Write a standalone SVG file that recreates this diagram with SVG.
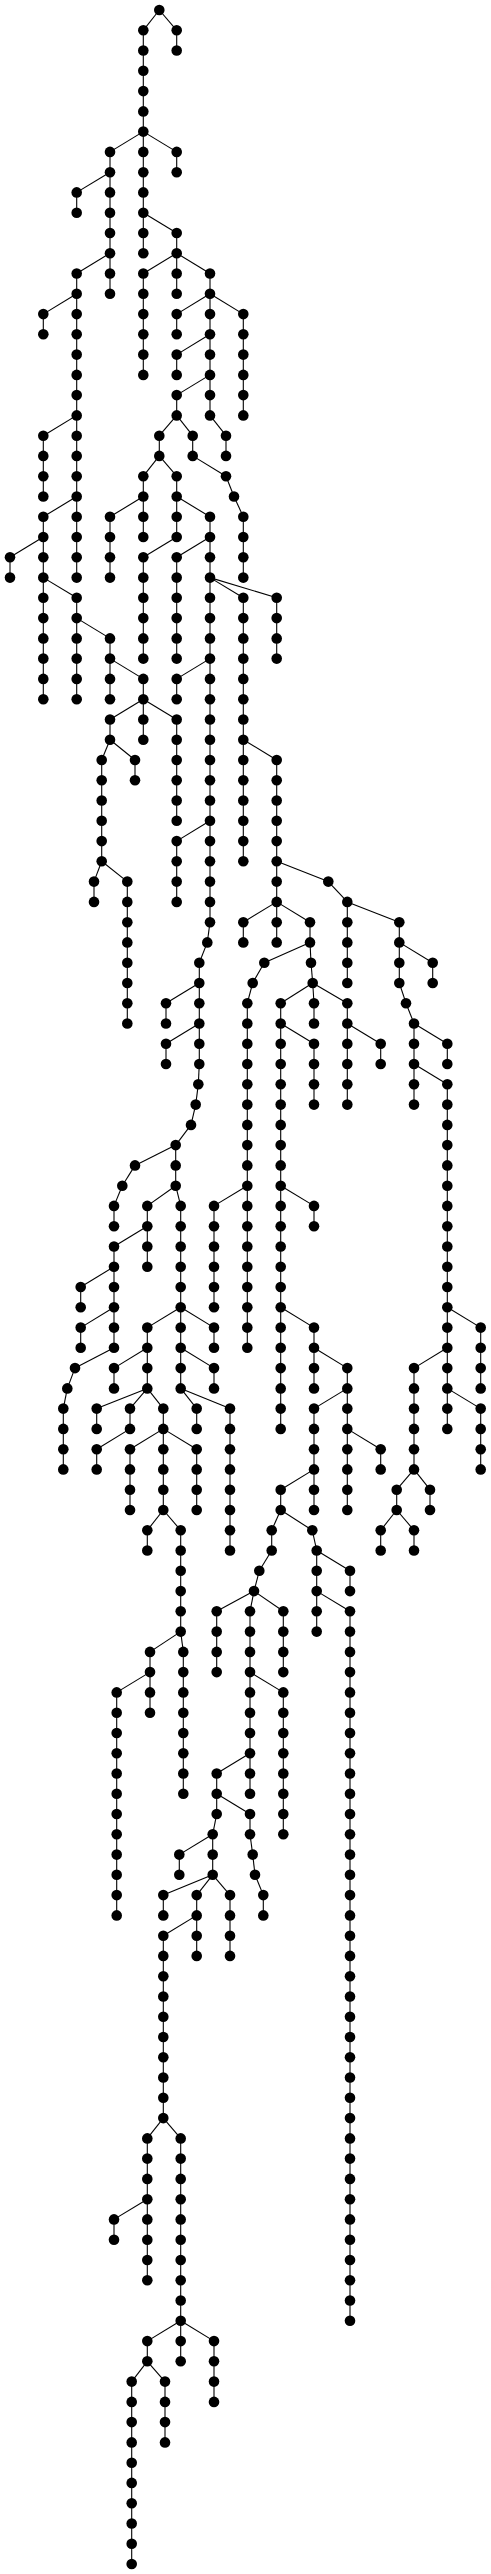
<svg xmlns="http://www.w3.org/2000/svg" width="491" height="2574" viewBox="0 0 491 2574">
<style>
.e path{stroke:#000;stroke-width:1.1;fill:none}
.n circle{fill:#000}
</style>
<rect width="491" height="2574" fill="#fff"/>
<g class="e" id="connectors">
<path d="M159.3 10L143.3 30.3"/><path d="M159.3 10L176.7 30.3"/>
<path d="M143.3 30.3V50.5"/><path d="M176.7 30.3V50.5"/>
<path d="M143.3 50.5V70.8"/><path d="M143.3 70.8V91.1"/><path d="M143.3 91.1V111.4"/><path d="M143.3 111.4V131.6"/>
<path d="M143.3 131.6L110 151.9"/><path d="M143.3 131.6V151.9"/><path d="M143.3 131.6L176.7 151.9"/>
<path d="M110 151.9V172.2"/><path d="M143.3 151.9V172.2"/><path d="M176.7 151.9V172.2"/>
<path d="M110 172.2L76.7 192.4"/><path d="M110 172.2V192.4"/><path d="M143.3 172.2V192.4"/>
<path d="M76.7 192.4V212.7"/><path d="M110 192.4V212.7"/><path d="M143.3 192.4V212.7"/>
<path d="M110 212.7V233"/><path d="M143.3 212.7V233"/><path d="M143.3 212.7L176.7 233"/>
<path d="M110 233V253.2"/><path d="M143.3 233V253.2"/><path d="M176.7 233V253.2"/>
<path d="M110 253.2L76.7 273.5"/><path d="M110 253.2V273.5"/><path d="M176.7 253.2L143.3 273.5"/><path d="M176.7 253.2V273.5"/><path d="M176.7 253.2L210 273.5"/>
<path d="M76.7 273.5V293.8"/><path d="M110 273.5V293.8"/><path d="M143.3 273.5V293.8"/><path d="M176.7 273.5V293.8"/><path d="M210 273.5V293.8"/>
<path d="M76.7 293.8L43.3 314.1"/><path d="M76.7 293.8V314.1"/><path d="M143.3 293.8V314.1"/><path d="M210 293.8L176.7 314.1"/><path d="M210 293.8V314.1"/><path d="M210 293.8L243.3 314.1"/>
<path d="M43.3 314.1V334.3"/><path d="M76.7 314.1V334.3"/><path d="M143.3 314.1V334.3"/><path d="M176.7 314.1V334.3"/><path d="M210 314.1V334.3"/><path d="M243.3 314.1V334.3"/>
<path d="M76.7 334.3V354.6"/><path d="M143.3 334.3V354.6"/><path d="M210 334.3L176.7 354.6"/><path d="M210 334.3V354.6"/><path d="M243.3 334.3V354.6"/>
<path d="M76.7 354.6V374.9"/><path d="M143.3 354.6V374.9"/><path d="M176.7 354.6V374.9"/><path d="M210 354.6V374.9"/><path d="M243.3 354.6V374.9"/>
<path d="M76.7 374.9V395.1"/><path d="M210 374.9L176.7 395.1"/><path d="M210 374.9V395.1"/><path d="M243.3 374.9V395.1"/>
<path d="M76.7 395.1V415.4"/><path d="M176.7 395.1V415.4"/><path d="M210 395.1V415.4"/><path d="M243.3 395.1V415.4"/>
<path d="M76.7 415.4L43.3 435.7"/><path d="M76.7 415.4V435.7"/><path d="M176.7 415.4L159.3 435.7"/><path d="M176.7 415.4L192.7 435.7"/><path d="M210 415.4L226 435.7"/>
<path d="M43.3 435.7V455.9"/><path d="M76.7 435.7V455.9"/><path d="M159.3 435.7V455.9"/><path d="M192.7 435.7V455.9"/><path d="M226 435.7V455.9"/>
<path d="M43.3 455.9V476.2"/><path d="M76.7 455.9V476.2"/><path d="M159.3 455.9L143.3 476.2"/><path d="M159.3 455.9L176.7 476.2"/><path d="M192.7 455.9L226 476.2"/>
<path d="M43.3 476.2V496.5"/><path d="M76.7 476.2V496.5"/><path d="M143.3 476.2V496.5"/><path d="M176.7 476.2V496.5"/><path d="M226 476.2L234 496.5"/>
<path d="M76.7 496.5L43.3 516.8"/><path d="M76.7 496.5V516.8"/><path d="M143.3 496.5L110 516.8"/><path d="M143.3 496.5V516.8"/><path d="M176.7 496.5V516.8"/><path d="M176.7 496.5L210 516.8"/><path d="M234 496.5L243.3 516.8"/>
<path d="M43.3 516.8V537"/><path d="M76.7 516.8V537"/><path d="M110 516.8V537"/><path d="M143.3 516.8V537"/><path d="M176.7 516.8V537"/><path d="M210 516.8V537"/><path d="M243.3 516.8V537"/>
<path d="M43.3 537L10 557.3"/><path d="M43.3 537V557.3"/><path d="M76.7 537V557.3"/><path d="M110 537V557.3"/><path d="M176.7 537L143.3 557.3"/><path d="M210 537L176.7 557.3"/><path d="M210 537V557.3"/><path d="M243.3 537V557.3"/>
<path d="M10 557.3V577.6"/><path d="M43.3 557.3V577.6"/><path d="M76.7 557.3V577.6"/><path d="M110 557.3V577.6"/><path d="M143.3 557.3V577.6"/><path d="M176.7 557.3V577.6"/><path d="M210 557.3V577.6"/><path d="M243.3 557.3V577.6"/>
<path d="M43.3 577.6V597.8"/><path d="M43.3 577.6L76.7 597.8"/><path d="M143.3 577.6V597.8"/><path d="M176.7 577.6V597.8"/><path d="M210 577.6V597.8"/><path d="M210 577.6L243.3 597.8"/><path d="M210 577.6L276.7 597.8"/>
<path d="M43.3 597.8V618.1"/><path d="M76.7 597.8V618.1"/><path d="M143.3 597.8V618.1"/><path d="M176.7 597.8V618.1"/><path d="M210 597.8V618.1"/><path d="M243.3 597.8V618.1"/><path d="M276.7 597.8V618.1"/>
<path d="M43.3 618.1V638.4"/><path d="M76.7 618.1V638.4"/><path d="M76.7 618.1L110 638.4"/><path d="M143.3 618.1V638.4"/><path d="M176.7 618.1V638.4"/><path d="M210 618.1V638.4"/><path d="M243.3 618.1V638.4"/><path d="M276.7 618.1V638.4"/>
<path d="M43.3 638.4V658.6"/><path d="M76.7 638.4V658.6"/><path d="M110 638.4V658.6"/><path d="M143.3 638.4V658.6"/><path d="M176.7 638.4V658.6"/><path d="M210 638.4V658.6"/><path d="M243.3 638.4V658.6"/><path d="M276.7 638.4V658.6"/>
<path d="M43.3 658.6V678.9"/><path d="M76.7 658.6V678.9"/><path d="M110 658.6V678.9"/><path d="M110 658.6L143.3 678.9"/><path d="M210 658.6L176.7 678.9"/><path d="M210 658.6V678.9"/><path d="M243.3 658.6V678.9"/>
<path d="M43.3 678.9V699.2"/><path d="M76.7 678.9V699.2"/><path d="M110 678.9V699.2"/><path d="M143.3 678.9V699.2"/><path d="M176.7 678.9V699.2"/><path d="M210 678.9V699.2"/><path d="M243.3 678.9V699.2"/>
<path d="M143.3 699.2L110 719.5"/><path d="M143.3 699.2V719.5"/><path d="M143.3 699.2L176.7 719.5"/><path d="M210 699.2V719.5"/><path d="M243.3 699.2V719.5"/>
<path d="M110 719.5V739.7"/><path d="M143.3 719.5V739.7"/><path d="M176.7 719.5V739.7"/><path d="M210 719.5V739.7"/><path d="M243.3 719.5V739.7"/>
<path d="M110 739.7L101.7 760"/><path d="M110 739.7L135 760"/><path d="M176.7 739.7V760"/><path d="M210 739.7V760"/><path d="M243.3 739.7V760"/><path d="M243.3 739.7L276.7 760"/>
<path d="M101.7 760V780.3"/><path d="M135 760V780.3"/><path d="M176.7 760V780.3"/><path d="M210 760V780.3"/><path d="M243.3 760V780.3"/><path d="M276.7 760V780.3"/>
<path d="M101.7 780.3V800.5"/><path d="M176.7 780.3V800.5"/><path d="M210 780.3V800.5"/><path d="M243.3 780.3V800.5"/><path d="M276.7 780.3V800.5"/>
<path d="M101.7 800.5V820.8"/><path d="M176.7 800.5V820.8"/><path d="M210 800.5V820.8"/><path d="M243.3 800.5V820.8"/><path d="M276.7 800.5V820.8"/>
<path d="M101.7 820.8V841.1"/><path d="M210 820.8L176.7 841.1"/><path d="M210 820.8V841.1"/><path d="M243.3 820.8V841.1"/><path d="M276.7 820.8V841.1"/>
<path d="M101.7 841.1V861.3"/><path d="M176.7 841.1V861.3"/><path d="M210 841.1V861.3"/><path d="M243.3 841.1V861.3"/><path d="M276.7 841.1V861.3"/>
<path d="M101.7 861.3L94 881.6"/><path d="M101.7 861.3L127.3 881.6"/><path d="M176.7 861.3V881.6"/><path d="M210 861.3V881.6"/><path d="M276.7 861.3V881.6"/><path d="M276.7 861.3L328.3 881.6"/>
<path d="M94 881.6V901.9"/><path d="M127.3 881.6V901.9"/><path d="M176.7 881.6V901.9"/><path d="M210 881.6V901.9"/><path d="M276.7 881.6V901.9"/><path d="M328.3 881.6L347.3 901.9"/>
<path d="M127.3 901.9V922.2"/><path d="M210 901.9V922.2"/><path d="M276.7 901.9L243.3 922.2"/><path d="M276.7 901.9V922.2"/><path d="M276.7 901.9L310 922.2"/><path d="M347.3 901.9V922.2"/><path d="M347.3 901.9L399.3 922.2"/>
<path d="M127.3 922.2V942.4"/><path d="M210 922.2L207.3 942.4"/><path d="M243.3 922.2V942.4"/><path d="M276.7 922.2V942.4"/><path d="M310 922.2V942.4"/><path d="M347.3 922.2V942.4"/><path d="M399.3 922.2V942.4"/>
<path d="M127.3 942.4V962.7"/><path d="M207.3 942.4L199.3 962.7"/><path d="M310 942.4L264.3 962.7"/><path d="M310 942.4L311 962.7"/><path d="M347.3 942.4V962.7"/><path d="M399.3 942.4V962.7"/><path d="M399.3 942.4L432.7 962.7"/>
<path d="M127.3 962.7V983"/><path d="M199.3 962.7V983"/><path d="M264.3 962.7L252.7 983"/><path d="M311 962.7L312.7 983"/><path d="M347.3 962.7V983"/><path d="M399.3 962.7V983"/><path d="M432.7 962.7V983"/>
<path d="M127.3 983V1003.2"/><path d="M199.3 983L166 1003.2"/><path d="M199.3 983V1003.2"/><path d="M252.7 983L247.3 1003.2"/><path d="M312.7 983L280.7 1003.2"/><path d="M312.7 983L314 1003.2"/><path d="M312.7 983L347.3 1003.2"/><path d="M399.3 983L406 1003.2"/>
<path d="M127.3 1003.2V1023.5"/><path d="M166 1003.2V1023.5"/><path d="M199.3 1003.2V1023.5"/><path d="M247.3 1003.2V1023.5"/><path d="M280.7 1003.2V1023.5"/><path d="M314 1003.2V1023.5"/><path d="M347.3 1003.2V1023.5"/><path d="M406 1003.2L414 1023.5"/>
<path d="M199.3 1023.5L166 1043.8"/><path d="M199.3 1023.5V1043.8"/><path d="M247.3 1023.5V1043.8"/><path d="M280.7 1023.5V1043.8"/><path d="M280.7 1023.5L314 1043.8"/><path d="M347.3 1023.5V1043.8"/><path d="M347.3 1023.5L380.7 1043.8"/><path d="M414 1023.5V1043.8"/><path d="M414 1023.5L447.3 1043.8"/>
<path d="M166 1043.8V1064"/><path d="M199.3 1043.8V1064"/><path d="M247.3 1043.8V1064"/><path d="M280.7 1043.8V1064"/><path d="M314 1043.8V1064"/><path d="M347.3 1043.8V1064"/><path d="M380.7 1043.8V1064"/><path d="M414 1043.8V1064"/><path d="M447.3 1043.8V1064"/>
<path d="M199.3 1064L198.3 1084.3"/><path d="M247.3 1064V1084.3"/><path d="M280.7 1064V1084.3"/><path d="M314 1064V1084.3"/><path d="M347.3 1064V1084.3"/><path d="M414 1064V1084.3"/><path d="M414 1064L447.3 1084.3"/>
<path d="M198.3 1084.3L195.7 1104.6"/><path d="M247.3 1084.3V1104.6"/><path d="M280.7 1084.3V1104.6"/><path d="M314 1084.3V1104.6"/><path d="M347.3 1084.3V1104.6"/><path d="M414 1084.3V1104.6"/><path d="M447.3 1084.3V1104.6"/>
<path d="M195.7 1104.6L191 1124.9"/><path d="M247.3 1104.6V1124.9"/><path d="M280.7 1104.6V1124.9"/><path d="M447.3 1104.6V1124.9"/>
<path d="M191 1124.9L175.7 1145.1"/><path d="M247.3 1124.9V1145.1"/><path d="M280.7 1124.9V1145.1"/><path d="M447.3 1124.9V1145.1"/>
<path d="M175.7 1145.1L135 1165.4"/><path d="M175.7 1145.1V1165.4"/><path d="M247.3 1145.1V1165.4"/><path d="M280.7 1145.1V1165.4"/><path d="M447.3 1145.1V1165.4"/>
<path d="M135 1165.4L122.3 1185.7"/><path d="M175.7 1165.4V1185.7"/><path d="M247.3 1165.4V1185.7"/><path d="M280.7 1165.4V1185.7"/><path d="M447.3 1165.4V1185.7"/>
<path d="M122.3 1185.7L114 1205.9"/><path d="M175.7 1185.7L147.3 1205.9"/><path d="M175.7 1185.7L180.7 1205.9"/><path d="M247.3 1185.7L214 1205.9"/><path d="M247.3 1185.7V1205.9"/><path d="M280.7 1185.7V1205.9"/><path d="M280.7 1185.7L314 1205.9"/><path d="M447.3 1185.7V1205.9"/>
<path d="M114 1205.9V1226.2"/><path d="M147.3 1205.9V1226.2"/><path d="M180.7 1205.9V1226.2"/><path d="M214 1205.9V1226.2"/><path d="M247.3 1205.9V1226.2"/><path d="M280.7 1205.9V1226.2"/><path d="M314 1205.9V1226.2"/><path d="M447.3 1205.9V1226.2"/>
<path d="M147.3 1226.2L114 1246.5"/><path d="M147.3 1226.2V1246.5"/><path d="M180.7 1226.2V1246.5"/><path d="M214 1226.2V1246.5"/><path d="M247.3 1226.2V1246.5"/><path d="M280.7 1226.2V1246.5"/><path d="M447.3 1226.2V1246.5"/>
<path d="M114 1246.5V1266.7"/><path d="M147.3 1246.5V1266.7"/><path d="M180.7 1246.5V1266.7"/><path d="M214 1246.5V1266.7"/><path d="M247.3 1246.5V1266.7"/><path d="M280.7 1246.5V1266.7"/><path d="M447.3 1246.5V1266.7"/>
<path d="M114 1266.7L80.7 1287"/><path d="M114 1266.7V1287"/><path d="M180.7 1266.7V1287"/><path d="M214 1266.7V1287"/><path d="M247.3 1266.7V1287"/><path d="M280.7 1266.7V1287"/><path d="M447.3 1266.7V1287"/>
<path d="M80.7 1287V1307.3"/><path d="M114 1287V1307.3"/><path d="M180.7 1287V1307.3"/><path d="M214 1287V1307.3"/><path d="M247.3 1287V1307.3"/><path d="M280.7 1287V1307.3"/><path d="M447.3 1287V1307.3"/>
<path d="M114 1307.3L80.7 1327.6"/><path d="M114 1307.3V1327.6"/><path d="M180.7 1307.3L147.3 1327.6"/><path d="M180.7 1307.3V1327.6"/><path d="M180.7 1307.3L214 1327.6"/><path d="M247.3 1307.3V1327.6"/><path d="M280.7 1307.3V1327.6"/><path d="M280.7 1307.3L314 1327.6"/><path d="M447.3 1307.3V1327.6"/><path d="M447.3 1307.3L480.7 1327.6"/>
<path d="M80.7 1327.6V1347.8"/><path d="M114 1327.6V1347.8"/><path d="M147.3 1327.6V1347.8"/><path d="M180.7 1327.6V1347.8"/><path d="M214 1327.6V1347.8"/><path d="M247.3 1327.6V1347.8"/><path d="M280.7 1327.6V1347.8"/><path d="M314 1327.6V1347.8"/><path d="M447.3 1327.6V1347.8"/><path d="M480.7 1327.6V1347.8"/>
<path d="M114 1347.8L75 1368.1"/><path d="M147.3 1347.8L114 1368.1"/><path d="M147.3 1347.8V1368.1"/><path d="M180.7 1347.8V1368.1"/><path d="M180.7 1347.8L214 1368.1"/><path d="M280.7 1347.8V1368.1"/><path d="M314 1347.8V1368.1"/><path d="M314 1347.8L347.3 1368.1"/><path d="M447.3 1347.8L414 1368.1"/><path d="M447.3 1347.8V1368.1"/><path d="M480.7 1347.8V1368.1"/>
<path d="M75 1368.1L67.3 1388.4"/><path d="M114 1368.1V1388.4"/><path d="M147.3 1368.1V1388.4"/><path d="M180.7 1368.1V1388.4"/><path d="M214 1368.1V1388.4"/><path d="M280.7 1368.1V1388.4"/><path d="M314 1368.1V1388.4"/><path d="M347.3 1368.1V1388.4"/><path d="M414 1368.1V1388.4"/><path d="M447.3 1368.1V1388.4"/><path d="M480.7 1368.1V1388.4"/>
<path d="M67.3 1388.4L63.3 1408.6"/><path d="M147.3 1388.4L96.7 1408.6"/><path d="M147.3 1388.4L130 1408.6"/><path d="M147.3 1388.4L163.3 1408.6"/><path d="M180.7 1388.4L196.7 1408.6"/><path d="M180.7 1388.4L230 1408.6"/><path d="M280.7 1388.4V1408.6"/><path d="M347.3 1388.4L314 1408.6"/><path d="M347.3 1388.4V1408.6"/><path d="M414 1388.4V1408.6"/><path d="M447.3 1388.4V1408.6"/><path d="M447.3 1388.4L480.7 1408.6"/>
<path d="M63.3 1408.6V1428.9"/><path d="M96.7 1408.6V1428.9"/><path d="M130 1408.6V1428.9"/><path d="M163.3 1408.6V1428.9"/><path d="M196.7 1408.6V1428.9"/><path d="M230 1408.6V1428.9"/><path d="M280.7 1408.6V1428.9"/><path d="M314 1408.6V1428.9"/><path d="M347.3 1408.6V1428.9"/><path d="M414 1408.6V1428.9"/><path d="M447.3 1408.6V1428.9"/><path d="M480.7 1408.6V1428.9"/>
<path d="M63.3 1428.9V1449.2"/><path d="M130 1428.9L96.7 1449.2"/><path d="M163.3 1428.9L130 1449.2"/><path d="M163.3 1428.9V1449.2"/><path d="M163.3 1428.9L196.7 1449.2"/><path d="M230 1428.9V1449.2"/><path d="M314 1428.9V1449.2"/><path d="M347.3 1428.9V1449.2"/><path d="M347.3 1428.9L380.7 1449.2"/><path d="M414 1428.9V1449.2"/><path d="M480.7 1428.9V1449.2"/>
<path d="M63.3 1449.2V1469.4"/><path d="M96.7 1449.2V1469.4"/><path d="M130 1449.2V1469.4"/><path d="M163.3 1449.2V1469.4"/><path d="M196.7 1449.2V1469.4"/><path d="M230 1449.2V1469.4"/><path d="M314 1449.2V1469.4"/><path d="M347.3 1449.2V1469.4"/><path d="M380.7 1449.2V1469.4"/><path d="M414 1449.2V1469.4"/><path d="M480.7 1449.2V1469.4"/>
<path d="M130 1469.4V1489.7"/><path d="M163.3 1469.4V1489.7"/><path d="M196.7 1469.4V1489.7"/><path d="M230 1469.4V1489.7"/><path d="M314 1469.4L280.7 1489.7"/><path d="M314 1469.4V1489.7"/><path d="M347.3 1469.4V1489.7"/><path d="M414 1469.4L396.7 1489.7"/><path d="M414 1469.4L430 1489.7"/>
<path d="M130 1489.7V1510"/><path d="M163.3 1489.7V1510"/><path d="M196.7 1489.7V1510"/><path d="M230 1489.7V1510"/><path d="M280.7 1489.7V1510"/><path d="M314 1489.7V1510"/><path d="M347.3 1489.7V1510"/><path d="M396.7 1489.7V1510"/><path d="M430 1489.7V1510"/>
<path d="M163.3 1510L147.3 1530.3"/><path d="M163.3 1510L180.7 1530.3"/><path d="M230 1510V1530.3"/><path d="M280.7 1510L271.7 1530.3"/><path d="M280.7 1510L312.3 1530.3"/><path d="M396.7 1510L380.7 1530.3"/><path d="M396.7 1510L414 1530.3"/>
<path d="M147.3 1530.3V1550.5"/><path d="M180.7 1530.3V1550.5"/><path d="M230 1530.3V1550.5"/><path d="M271.7 1530.3V1550.5"/><path d="M312.3 1530.3L316.7 1550.5"/><path d="M380.7 1530.3V1550.5"/><path d="M414 1530.3V1550.5"/>
<path d="M180.7 1550.5V1570.8"/><path d="M271.7 1550.5L259.3 1570.8"/><path d="M316.7 1550.5V1570.8"/><path d="M316.7 1550.5L350 1570.8"/>
<path d="M180.7 1570.8V1591.1"/><path d="M259.3 1570.8L254 1591.1"/><path d="M316.7 1570.8V1591.1"/><path d="M350 1570.8V1591.1"/>
<path d="M180.7 1591.1V1611.3"/><path d="M254 1591.1L216.7 1611.3"/><path d="M254 1591.1L250 1611.3"/><path d="M254 1591.1L283.3 1611.3"/><path d="M316.7 1591.1V1611.3"/><path d="M316.7 1591.1L350 1611.3"/>
<path d="M180.7 1611.3V1631.6"/><path d="M216.7 1611.3V1631.6"/><path d="M250 1611.3V1631.6"/><path d="M283.3 1611.3V1631.6"/><path d="M316.7 1611.3V1631.6"/><path d="M350 1611.3V1631.6"/>
<path d="M180.7 1631.6L150 1651.9"/><path d="M180.7 1631.6L183.3 1651.9"/><path d="M216.7 1631.6V1651.9"/><path d="M250 1631.6V1651.9"/><path d="M283.3 1631.6V1651.9"/><path d="M350 1631.6V1651.9"/>
<path d="M150 1651.9V1672.1"/><path d="M183.3 1651.9V1672.1"/><path d="M216.7 1651.9V1672.1"/><path d="M250 1651.9V1672.1"/><path d="M283.3 1651.9V1672.1"/><path d="M350 1651.9V1672.1"/>
<path d="M150 1672.1L116.7 1692.4"/><path d="M150 1672.1V1692.4"/><path d="M183.3 1672.1V1692.4"/><path d="M250 1672.1V1692.4"/><path d="M250 1672.1L283.3 1692.4"/><path d="M350 1672.1V1692.4"/>
<path d="M116.7 1692.4V1712.7"/><path d="M150 1692.4V1712.7"/><path d="M183.3 1692.4V1712.7"/><path d="M250 1692.4V1712.7"/><path d="M283.3 1692.4V1712.7"/><path d="M350 1692.4V1712.7"/>
<path d="M116.7 1712.7V1733"/><path d="M183.3 1712.7V1733"/><path d="M250 1712.7V1733"/><path d="M283.3 1712.7V1733"/><path d="M350 1712.7V1733"/>
<path d="M116.7 1733V1753.2"/><path d="M183.3 1733V1753.2"/><path d="M250 1733V1753.2"/><path d="M283.3 1733V1753.2"/><path d="M350 1733V1753.2"/>
<path d="M116.7 1753.2V1773.5"/><path d="M183.3 1753.2V1773.5"/><path d="M250 1753.2L216.7 1773.5"/><path d="M250 1753.2V1773.5"/><path d="M283.3 1753.2V1773.5"/><path d="M350 1753.2V1773.5"/>
<path d="M116.7 1773.5V1793.8"/><path d="M183.3 1773.5V1793.8"/><path d="M216.7 1773.5V1793.8"/><path d="M250 1773.5V1793.8"/><path d="M283.3 1773.5V1793.8"/><path d="M350 1773.5V1793.8"/>
<path d="M116.7 1793.8V1814"/><path d="M216.7 1793.8V1814"/><path d="M216.7 1793.8L250 1814"/><path d="M283.3 1793.8V1814"/><path d="M350 1793.8V1814"/>
<path d="M116.7 1814V1834.3"/><path d="M216.7 1814L212.7 1834.3"/><path d="M250 1814V1834.3"/><path d="M283.3 1814V1834.3"/><path d="M350 1814V1834.3"/>
<path d="M116.7 1834.3V1854.6"/><path d="M212.7 1834.3L179.3 1854.6"/><path d="M212.7 1834.3V1854.6"/><path d="M250 1834.3L252.7 1854.6"/><path d="M350 1834.3V1854.6"/>
<path d="M116.7 1854.6V1874.8"/><path d="M179.3 1854.6V1874.8"/><path d="M212.7 1854.6V1874.8"/><path d="M252.7 1854.6L255 1874.8"/><path d="M350 1854.6V1874.8"/>
<path d="M116.7 1874.8V1895.1"/><path d="M212.7 1874.8L163.3 1895.1"/><path d="M212.7 1874.8L196.7 1895.1"/><path d="M212.7 1874.8L230 1895.1"/><path d="M255 1874.8L263.3 1895.1"/><path d="M350 1874.8V1895.1"/>
<path d="M116.7 1895.1V1915.4"/><path d="M163.3 1895.1V1915.4"/><path d="M196.7 1895.1V1915.4"/><path d="M230 1895.1V1915.4"/><path d="M263.3 1895.1V1915.4"/><path d="M350 1895.1V1915.4"/>
<path d="M196.7 1915.4L163.3 1935.7"/><path d="M196.7 1915.4V1935.7"/><path d="M230 1915.4V1935.7"/><path d="M350 1915.4V1935.7"/>
<path d="M163.3 1935.7V1955.9"/><path d="M196.7 1935.7V1955.9"/><path d="M230 1935.7V1955.9"/><path d="M350 1935.7V1955.9"/>
<path d="M163.3 1955.9V2118.1"/><path d="M350 1955.9V2320.8"/>
<path d="M163.3 2118.1L147.3 2138.4"/><path d="M163.3 2118.1L180.7 2138.4"/>
<path d="M147.3 2138.4V2280.2"/><path d="M180.7 2138.4V2341.1"/>
<path d="M147.3 2199.2L114 2219.4"/><path d="M114 2219.4V2239.7"/>
<path d="M180.7 2320.8L147.3 2341.1"/><path d="M180.7 2320.8L214 2341.1"/>
<path d="M147.3 2341.1V2361.3"/><path d="M180.7 2341.1V2361.3"/><path d="M214 2341.1V2401.9"/>
<path d="M147.3 2361.3L131.7 2381.6"/><path d="M147.3 2361.3L165 2381.6"/>
<path d="M131.7 2381.6V2564"/><path d="M165 2381.6V2442.4"/>
</g>
<g class="n" id="nodes">
<g id="n0"><circle cx="159.3" cy="10" r="5.3"/></g>
<g id="n1a"><circle cx="143.3" cy="30.3" r="5.3"/></g><g id="n1b"><circle cx="176.7" cy="30.3" r="5.3"/></g>
<g id="n2a"><circle cx="143.3" cy="50.5" r="5.3"/></g><g id="n2b"><circle cx="176.7" cy="50.5" r="5.3"/></g>
<g id="n3a"><circle cx="143.3" cy="70.8" r="5.3"/></g>
<g id="n4a"><circle cx="143.3" cy="91.1" r="5.3"/></g>
<g id="n5a"><circle cx="143.3" cy="111.4" r="5.3"/></g>
<g id="n6a"><circle cx="143.3" cy="131.6" r="5.3"/></g>
<g id="n7a"><circle cx="110" cy="151.9" r="5.3"/></g><g id="n7b"><circle cx="143.3" cy="151.9" r="5.3"/></g><g id="n7c"><circle cx="176.7" cy="151.9" r="5.3"/></g>
<g id="n8a"><circle cx="110" cy="172.2" r="5.3"/></g><g id="n8b"><circle cx="143.3" cy="172.2" r="5.3"/></g><g id="n8c"><circle cx="176.7" cy="172.2" r="5.3"/></g>
<g id="n9a"><circle cx="76.7" cy="192.4" r="5.3"/></g><g id="n9b"><circle cx="110" cy="192.4" r="5.3"/></g><g id="n9c"><circle cx="143.3" cy="192.4" r="5.3"/></g>
<g id="n10a"><circle cx="76.7" cy="212.7" r="5.3"/></g><g id="n10b"><circle cx="110" cy="212.7" r="5.3"/></g><g id="n10c"><circle cx="143.3" cy="212.7" r="5.3"/></g>
<g id="n11a"><circle cx="110" cy="233" r="5.3"/></g><g id="n11b"><circle cx="143.3" cy="233" r="5.3"/></g><g id="n11c"><circle cx="176.7" cy="233" r="5.3"/></g>
<g id="n12a"><circle cx="110" cy="253.2" r="5.3"/></g><g id="n12b"><circle cx="143.3" cy="253.2" r="5.3"/></g><g id="n12c"><circle cx="176.7" cy="253.2" r="5.3"/></g>
<g id="n13a"><circle cx="76.7" cy="273.5" r="5.3"/></g><g id="n13b"><circle cx="110" cy="273.5" r="5.3"/></g><g id="n13c"><circle cx="143.3" cy="273.5" r="5.3"/></g><g id="n13d"><circle cx="176.7" cy="273.5" r="5.3"/></g><g id="n13e"><circle cx="210" cy="273.5" r="5.3"/></g>
<g id="n14a"><circle cx="76.7" cy="293.8" r="5.3"/></g><g id="n14b"><circle cx="110" cy="293.8" r="5.3"/></g><g id="n14c"><circle cx="143.3" cy="293.8" r="5.3"/></g><g id="n14d"><circle cx="176.7" cy="293.8" r="5.3"/></g><g id="n14e"><circle cx="210" cy="293.8" r="5.3"/></g>
<g id="n15a"><circle cx="43.3" cy="314.1" r="5.3"/></g><g id="n15b"><circle cx="76.7" cy="314.1" r="5.3"/></g><g id="n15c"><circle cx="143.3" cy="314.1" r="5.3"/></g><g id="n15d"><circle cx="176.7" cy="314.1" r="5.3"/></g><g id="n15e"><circle cx="210" cy="314.1" r="5.3"/></g><g id="n15f"><circle cx="243.3" cy="314.1" r="5.3"/></g>
<g id="n16a"><circle cx="43.3" cy="334.3" r="5.3"/></g><g id="n16b"><circle cx="76.7" cy="334.3" r="5.3"/></g><g id="n16c"><circle cx="143.3" cy="334.3" r="5.3"/></g><g id="n16d"><circle cx="176.7" cy="334.3" r="5.3"/></g><g id="n16e"><circle cx="210" cy="334.3" r="5.3"/></g><g id="n16f"><circle cx="243.3" cy="334.3" r="5.3"/></g>
<g id="n17a"><circle cx="76.7" cy="354.6" r="5.3"/></g><g id="n17b"><circle cx="143.3" cy="354.6" r="5.3"/></g><g id="n17c"><circle cx="176.7" cy="354.6" r="5.3"/></g><g id="n17d"><circle cx="210" cy="354.6" r="5.3"/></g><g id="n17e"><circle cx="243.3" cy="354.6" r="5.3"/></g>
<g id="n18a"><circle cx="76.7" cy="374.9" r="5.3"/></g><g id="n18b"><circle cx="143.3" cy="374.9" r="5.3"/></g><g id="n18c"><circle cx="176.7" cy="374.9" r="5.3"/></g><g id="n18d"><circle cx="210" cy="374.9" r="5.3"/></g><g id="n18e"><circle cx="243.3" cy="374.9" r="5.3"/></g>
<g id="n19a"><circle cx="76.7" cy="395.1" r="5.3"/></g><g id="n19b"><circle cx="176.7" cy="395.1" r="5.3"/></g><g id="n19c"><circle cx="210" cy="395.1" r="5.3"/></g><g id="n19d"><circle cx="243.3" cy="395.1" r="5.3"/></g>
<g id="n20a"><circle cx="76.7" cy="415.4" r="5.3"/></g><g id="n20b"><circle cx="176.7" cy="415.4" r="5.3"/></g><g id="n20c"><circle cx="210" cy="415.4" r="5.3"/></g><g id="n20d"><circle cx="243.3" cy="415.4" r="5.3"/></g>
<g id="n21a"><circle cx="43.3" cy="435.7" r="5.3"/></g><g id="n21b"><circle cx="76.7" cy="435.7" r="5.3"/></g><g id="n21c"><circle cx="159.3" cy="435.7" r="5.3"/></g><g id="n21d"><circle cx="192.7" cy="435.7" r="5.3"/></g><g id="n21e"><circle cx="226" cy="435.7" r="5.3"/></g>
<g id="n22a"><circle cx="43.3" cy="455.9" r="5.3"/></g><g id="n22b"><circle cx="76.7" cy="455.9" r="5.3"/></g><g id="n22c"><circle cx="159.3" cy="455.9" r="5.3"/></g><g id="n22d"><circle cx="192.7" cy="455.9" r="5.3"/></g><g id="n22e"><circle cx="226" cy="455.9" r="5.3"/></g>
<g id="n23a"><circle cx="43.3" cy="476.2" r="5.3"/></g><g id="n23b"><circle cx="76.7" cy="476.2" r="5.3"/></g><g id="n23c"><circle cx="143.3" cy="476.2" r="5.3"/></g><g id="n23d"><circle cx="176.7" cy="476.2" r="5.3"/></g><g id="n23e"><circle cx="226" cy="476.2" r="5.3"/></g>
<g id="n24a"><circle cx="43.3" cy="496.5" r="5.3"/></g><g id="n24b"><circle cx="76.7" cy="496.5" r="5.3"/></g><g id="n24c"><circle cx="143.3" cy="496.5" r="5.3"/></g><g id="n24d"><circle cx="176.7" cy="496.5" r="5.3"/></g><g id="n24e"><circle cx="234" cy="496.5" r="5.3"/></g>
<g id="n25a"><circle cx="43.3" cy="516.8" r="5.3"/></g><g id="n25b"><circle cx="76.7" cy="516.8" r="5.3"/></g><g id="n25c"><circle cx="110" cy="516.8" r="5.3"/></g><g id="n25d"><circle cx="143.3" cy="516.8" r="5.3"/></g><g id="n25e"><circle cx="176.7" cy="516.8" r="5.3"/></g><g id="n25f"><circle cx="210" cy="516.8" r="5.3"/></g><g id="n25g"><circle cx="243.3" cy="516.8" r="5.3"/></g>
<g id="n26a"><circle cx="43.3" cy="537" r="5.3"/></g><g id="n26b"><circle cx="76.7" cy="537" r="5.3"/></g><g id="n26c"><circle cx="110" cy="537" r="5.3"/></g><g id="n26d"><circle cx="143.3" cy="537" r="5.3"/></g><g id="n26e"><circle cx="176.7" cy="537" r="5.3"/></g><g id="n26f"><circle cx="210" cy="537" r="5.3"/></g><g id="n26g"><circle cx="243.3" cy="537" r="5.3"/></g>
<g id="n27a"><circle cx="10" cy="557.3" r="5.3"/></g><g id="n27b"><circle cx="43.3" cy="557.3" r="5.3"/></g><g id="n27c"><circle cx="76.7" cy="557.3" r="5.3"/></g><g id="n27d"><circle cx="110" cy="557.3" r="5.3"/></g><g id="n27e"><circle cx="143.3" cy="557.3" r="5.3"/></g><g id="n27f"><circle cx="176.7" cy="557.3" r="5.3"/></g><g id="n27g"><circle cx="210" cy="557.3" r="5.3"/></g><g id="n27h"><circle cx="243.3" cy="557.3" r="5.3"/></g>
<g id="n28a"><circle cx="10" cy="577.6" r="5.3"/></g><g id="n28b"><circle cx="43.3" cy="577.6" r="5.3"/></g><g id="n28c"><circle cx="76.7" cy="577.6" r="5.3"/></g><g id="n28d"><circle cx="110" cy="577.6" r="5.3"/></g><g id="n28e"><circle cx="143.3" cy="577.6" r="5.3"/></g><g id="n28f"><circle cx="176.7" cy="577.6" r="5.3"/></g><g id="n28g"><circle cx="210" cy="577.6" r="5.3"/></g><g id="n28h"><circle cx="243.3" cy="577.6" r="5.3"/></g>
<g id="n29a"><circle cx="43.3" cy="597.8" r="5.3"/></g><g id="n29b"><circle cx="76.7" cy="597.8" r="5.3"/></g><g id="n29c"><circle cx="143.3" cy="597.8" r="5.3"/></g><g id="n29d"><circle cx="176.7" cy="597.8" r="5.3"/></g><g id="n29e"><circle cx="210" cy="597.8" r="5.3"/></g><g id="n29f"><circle cx="243.3" cy="597.8" r="5.3"/></g><g id="n29g"><circle cx="276.7" cy="597.8" r="5.3"/></g>
<g id="n30a"><circle cx="43.3" cy="618.1" r="5.3"/></g><g id="n30b"><circle cx="76.7" cy="618.1" r="5.3"/></g><g id="n30c"><circle cx="143.3" cy="618.1" r="5.3"/></g><g id="n30d"><circle cx="176.7" cy="618.1" r="5.3"/></g><g id="n30e"><circle cx="210" cy="618.1" r="5.3"/></g><g id="n30f"><circle cx="243.3" cy="618.1" r="5.3"/></g><g id="n30g"><circle cx="276.7" cy="618.1" r="5.3"/></g>
<g id="n31a"><circle cx="43.3" cy="638.4" r="5.3"/></g><g id="n31b"><circle cx="76.7" cy="638.4" r="5.3"/></g><g id="n31c"><circle cx="110" cy="638.4" r="5.3"/></g><g id="n31d"><circle cx="143.3" cy="638.4" r="5.3"/></g><g id="n31e"><circle cx="176.7" cy="638.4" r="5.3"/></g><g id="n31f"><circle cx="210" cy="638.4" r="5.3"/></g><g id="n31g"><circle cx="243.3" cy="638.4" r="5.3"/></g><g id="n31h"><circle cx="276.7" cy="638.4" r="5.3"/></g>
<g id="n32a"><circle cx="43.3" cy="658.6" r="5.3"/></g><g id="n32b"><circle cx="76.7" cy="658.6" r="5.3"/></g><g id="n32c"><circle cx="110" cy="658.6" r="5.3"/></g><g id="n32d"><circle cx="143.3" cy="658.6" r="5.3"/></g><g id="n32e"><circle cx="176.7" cy="658.6" r="5.3"/></g><g id="n32f"><circle cx="210" cy="658.6" r="5.3"/></g><g id="n32g"><circle cx="243.3" cy="658.6" r="5.3"/></g><g id="n32h"><circle cx="276.7" cy="658.6" r="5.3"/></g>
<g id="n33a"><circle cx="43.3" cy="678.9" r="5.3"/></g><g id="n33b"><circle cx="76.7" cy="678.9" r="5.3"/></g><g id="n33c"><circle cx="110" cy="678.9" r="5.3"/></g><g id="n33d"><circle cx="143.3" cy="678.9" r="5.3"/></g><g id="n33e"><circle cx="176.7" cy="678.9" r="5.3"/></g><g id="n33f"><circle cx="210" cy="678.9" r="5.3"/></g><g id="n33g"><circle cx="243.3" cy="678.9" r="5.3"/></g>
<g id="n34a"><circle cx="43.3" cy="699.2" r="5.3"/></g><g id="n34b"><circle cx="76.7" cy="699.2" r="5.3"/></g><g id="n34c"><circle cx="110" cy="699.2" r="5.3"/></g><g id="n34d"><circle cx="143.3" cy="699.2" r="5.3"/></g><g id="n34e"><circle cx="176.7" cy="699.2" r="5.3"/></g><g id="n34f"><circle cx="210" cy="699.2" r="5.3"/></g><g id="n34g"><circle cx="243.3" cy="699.2" r="5.3"/></g>
<g id="n35a"><circle cx="110" cy="719.5" r="5.3"/></g><g id="n35b"><circle cx="143.3" cy="719.5" r="5.3"/></g><g id="n35c"><circle cx="176.7" cy="719.5" r="5.3"/></g><g id="n35d"><circle cx="210" cy="719.5" r="5.3"/></g><g id="n35e"><circle cx="243.3" cy="719.5" r="5.3"/></g>
<g id="n36a"><circle cx="110" cy="739.7" r="5.3"/></g><g id="n36b"><circle cx="143.3" cy="739.7" r="5.3"/></g><g id="n36c"><circle cx="176.7" cy="739.7" r="5.3"/></g><g id="n36d"><circle cx="210" cy="739.7" r="5.3"/></g><g id="n36e"><circle cx="243.3" cy="739.7" r="5.3"/></g>
<g id="n37a"><circle cx="101.7" cy="760" r="5.3"/></g><g id="n37b"><circle cx="135" cy="760" r="5.3"/></g><g id="n37c"><circle cx="176.7" cy="760" r="5.3"/></g><g id="n37d"><circle cx="210" cy="760" r="5.3"/></g><g id="n37e"><circle cx="243.3" cy="760" r="5.3"/></g><g id="n37f"><circle cx="276.7" cy="760" r="5.3"/></g>
<g id="n38a"><circle cx="101.7" cy="780.3" r="5.3"/></g><g id="n38b"><circle cx="135" cy="780.3" r="5.3"/></g><g id="n38c"><circle cx="176.7" cy="780.3" r="5.3"/></g><g id="n38d"><circle cx="210" cy="780.3" r="5.3"/></g><g id="n38e"><circle cx="243.3" cy="780.3" r="5.3"/></g><g id="n38f"><circle cx="276.7" cy="780.3" r="5.3"/></g>
<g id="n39a"><circle cx="101.7" cy="800.5" r="5.3"/></g><g id="n39b"><circle cx="176.7" cy="800.5" r="5.3"/></g><g id="n39c"><circle cx="210" cy="800.5" r="5.3"/></g><g id="n39d"><circle cx="243.3" cy="800.5" r="5.3"/></g><g id="n39e"><circle cx="276.7" cy="800.5" r="5.3"/></g>
<g id="n40a"><circle cx="101.7" cy="820.8" r="5.3"/></g><g id="n40b"><circle cx="176.7" cy="820.8" r="5.3"/></g><g id="n40c"><circle cx="210" cy="820.8" r="5.3"/></g><g id="n40d"><circle cx="243.3" cy="820.8" r="5.3"/></g><g id="n40e"><circle cx="276.7" cy="820.8" r="5.3"/></g>
<g id="n41a"><circle cx="101.7" cy="841.1" r="5.3"/></g><g id="n41b"><circle cx="176.7" cy="841.1" r="5.3"/></g><g id="n41c"><circle cx="210" cy="841.1" r="5.3"/></g><g id="n41d"><circle cx="243.3" cy="841.1" r="5.3"/></g><g id="n41e"><circle cx="276.7" cy="841.1" r="5.3"/></g>
<g id="n42a"><circle cx="101.7" cy="861.3" r="5.3"/></g><g id="n42b"><circle cx="176.7" cy="861.3" r="5.3"/></g><g id="n42c"><circle cx="210" cy="861.3" r="5.3"/></g><g id="n42d"><circle cx="243.3" cy="861.3" r="5.3"/></g><g id="n42e"><circle cx="276.7" cy="861.3" r="5.3"/></g>
<g id="n43a"><circle cx="94" cy="881.6" r="5.3"/></g><g id="n43b"><circle cx="127.3" cy="881.6" r="5.3"/></g><g id="n43c"><circle cx="176.7" cy="881.6" r="5.3"/></g><g id="n43d"><circle cx="210" cy="881.6" r="5.3"/></g><g id="n43e"><circle cx="276.7" cy="881.6" r="5.3"/></g><g id="n43f"><circle cx="328.3" cy="881.6" r="5.3"/></g>
<g id="n44a"><circle cx="94" cy="901.9" r="5.3"/></g><g id="n44b"><circle cx="127.3" cy="901.9" r="5.3"/></g><g id="n44c"><circle cx="176.7" cy="901.9" r="5.3"/></g><g id="n44d"><circle cx="210" cy="901.9" r="5.3"/></g><g id="n44e"><circle cx="276.7" cy="901.9" r="5.3"/></g><g id="n44f"><circle cx="347.3" cy="901.9" r="5.3"/></g>
<g id="n45a"><circle cx="127.3" cy="922.2" r="5.3"/></g><g id="n45b"><circle cx="210" cy="922.2" r="5.3"/></g><g id="n45c"><circle cx="243.3" cy="922.2" r="5.3"/></g><g id="n45d"><circle cx="276.7" cy="922.2" r="5.3"/></g><g id="n45e"><circle cx="310" cy="922.2" r="5.3"/></g><g id="n45f"><circle cx="347.3" cy="922.2" r="5.3"/></g><g id="n45g"><circle cx="399.3" cy="922.2" r="5.3"/></g>
<g id="n46a"><circle cx="127.3" cy="942.4" r="5.3"/></g><g id="n46b"><circle cx="207.3" cy="942.4" r="5.3"/></g><g id="n46c"><circle cx="243.3" cy="942.4" r="5.3"/></g><g id="n46d"><circle cx="276.7" cy="942.4" r="5.3"/></g><g id="n46e"><circle cx="310" cy="942.4" r="5.3"/></g><g id="n46f"><circle cx="347.3" cy="942.4" r="5.3"/></g><g id="n46g"><circle cx="399.3" cy="942.4" r="5.3"/></g>
<g id="n47a"><circle cx="127.3" cy="962.7" r="5.3"/></g><g id="n47b"><circle cx="199.3" cy="962.7" r="5.3"/></g><g id="n47c"><circle cx="264.3" cy="962.7" r="5.3"/></g><g id="n47d"><circle cx="311" cy="962.7" r="5.3"/></g><g id="n47e"><circle cx="347.3" cy="962.7" r="5.3"/></g><g id="n47f"><circle cx="399.3" cy="962.7" r="5.3"/></g><g id="n47g"><circle cx="432.7" cy="962.7" r="5.3"/></g>
<g id="n48a"><circle cx="127.3" cy="983" r="5.3"/></g><g id="n48b"><circle cx="199.3" cy="983" r="5.3"/></g><g id="n48c"><circle cx="252.7" cy="983" r="5.3"/></g><g id="n48d"><circle cx="312.7" cy="983" r="5.3"/></g><g id="n48e"><circle cx="347.3" cy="983" r="5.3"/></g><g id="n48f"><circle cx="399.3" cy="983" r="5.3"/></g><g id="n48g"><circle cx="432.7" cy="983" r="5.3"/></g>
<g id="n49a"><circle cx="127.3" cy="1003.2" r="5.3"/></g><g id="n49b"><circle cx="166" cy="1003.2" r="5.3"/></g><g id="n49c"><circle cx="199.3" cy="1003.2" r="5.3"/></g><g id="n49d"><circle cx="247.3" cy="1003.2" r="5.3"/></g><g id="n49e"><circle cx="280.7" cy="1003.2" r="5.3"/></g><g id="n49f"><circle cx="314" cy="1003.2" r="5.3"/></g><g id="n49g"><circle cx="347.3" cy="1003.2" r="5.3"/></g><g id="n49h"><circle cx="406" cy="1003.2" r="5.3"/></g>
<g id="n50a"><circle cx="127.3" cy="1023.5" r="5.3"/></g><g id="n50b"><circle cx="166" cy="1023.5" r="5.3"/></g><g id="n50c"><circle cx="199.3" cy="1023.5" r="5.3"/></g><g id="n50d"><circle cx="247.3" cy="1023.5" r="5.3"/></g><g id="n50e"><circle cx="280.7" cy="1023.5" r="5.3"/></g><g id="n50f"><circle cx="314" cy="1023.5" r="5.3"/></g><g id="n50g"><circle cx="347.3" cy="1023.5" r="5.3"/></g><g id="n50h"><circle cx="414" cy="1023.5" r="5.3"/></g>
<g id="n51a"><circle cx="166" cy="1043.8" r="5.3"/></g><g id="n51b"><circle cx="199.3" cy="1043.8" r="5.3"/></g><g id="n51c"><circle cx="247.3" cy="1043.8" r="5.3"/></g><g id="n51d"><circle cx="280.7" cy="1043.8" r="5.3"/></g><g id="n51e"><circle cx="314" cy="1043.8" r="5.3"/></g><g id="n51f"><circle cx="347.3" cy="1043.8" r="5.3"/></g><g id="n51g"><circle cx="380.7" cy="1043.8" r="5.3"/></g><g id="n51h"><circle cx="414" cy="1043.8" r="5.3"/></g><g id="n51i"><circle cx="447.3" cy="1043.8" r="5.3"/></g>
<g id="n52a"><circle cx="166" cy="1064" r="5.3"/></g><g id="n52b"><circle cx="199.3" cy="1064" r="5.3"/></g><g id="n52c"><circle cx="247.3" cy="1064" r="5.3"/></g><g id="n52d"><circle cx="280.7" cy="1064" r="5.3"/></g><g id="n52e"><circle cx="314" cy="1064" r="5.3"/></g><g id="n52f"><circle cx="347.3" cy="1064" r="5.3"/></g><g id="n52g"><circle cx="380.7" cy="1064" r="5.3"/></g><g id="n52h"><circle cx="414" cy="1064" r="5.3"/></g><g id="n52i"><circle cx="447.3" cy="1064" r="5.3"/></g>
<g id="n53a"><circle cx="198.3" cy="1084.3" r="5.3"/></g><g id="n53b"><circle cx="247.3" cy="1084.3" r="5.3"/></g><g id="n53c"><circle cx="280.7" cy="1084.3" r="5.3"/></g><g id="n53d"><circle cx="314" cy="1084.3" r="5.3"/></g><g id="n53e"><circle cx="347.3" cy="1084.3" r="5.3"/></g><g id="n53f"><circle cx="414" cy="1084.3" r="5.3"/></g><g id="n53g"><circle cx="447.3" cy="1084.3" r="5.3"/></g>
<g id="n54a"><circle cx="195.7" cy="1104.6" r="5.3"/></g><g id="n54b"><circle cx="247.3" cy="1104.6" r="5.3"/></g><g id="n54c"><circle cx="280.7" cy="1104.6" r="5.3"/></g><g id="n54d"><circle cx="314" cy="1104.6" r="5.3"/></g><g id="n54e"><circle cx="347.3" cy="1104.6" r="5.3"/></g><g id="n54f"><circle cx="414" cy="1104.6" r="5.3"/></g><g id="n54g"><circle cx="447.3" cy="1104.6" r="5.3"/></g>
<g id="n55a"><circle cx="191" cy="1124.9" r="5.3"/></g><g id="n55b"><circle cx="247.3" cy="1124.9" r="5.3"/></g><g id="n55c"><circle cx="280.7" cy="1124.9" r="5.3"/></g><g id="n55d"><circle cx="447.3" cy="1124.9" r="5.3"/></g>
<g id="n56a"><circle cx="175.7" cy="1145.1" r="5.3"/></g><g id="n56b"><circle cx="247.3" cy="1145.1" r="5.3"/></g><g id="n56c"><circle cx="280.7" cy="1145.1" r="5.3"/></g><g id="n56d"><circle cx="447.3" cy="1145.1" r="5.3"/></g>
<g id="n57a"><circle cx="135" cy="1165.4" r="5.3"/></g><g id="n57b"><circle cx="175.7" cy="1165.4" r="5.3"/></g><g id="n57c"><circle cx="247.3" cy="1165.4" r="5.3"/></g><g id="n57d"><circle cx="280.7" cy="1165.4" r="5.3"/></g><g id="n57e"><circle cx="447.3" cy="1165.4" r="5.3"/></g>
<g id="n58a"><circle cx="122.3" cy="1185.7" r="5.3"/></g><g id="n58b"><circle cx="175.7" cy="1185.7" r="5.3"/></g><g id="n58c"><circle cx="247.3" cy="1185.7" r="5.3"/></g><g id="n58d"><circle cx="280.7" cy="1185.7" r="5.3"/></g><g id="n58e"><circle cx="447.3" cy="1185.7" r="5.3"/></g>
<g id="n59a"><circle cx="114" cy="1205.9" r="5.3"/></g><g id="n59b"><circle cx="147.3" cy="1205.9" r="5.3"/></g><g id="n59c"><circle cx="180.7" cy="1205.9" r="5.3"/></g><g id="n59d"><circle cx="214" cy="1205.9" r="5.3"/></g><g id="n59e"><circle cx="247.3" cy="1205.9" r="5.3"/></g><g id="n59f"><circle cx="280.7" cy="1205.9" r="5.3"/></g><g id="n59g"><circle cx="314" cy="1205.9" r="5.3"/></g><g id="n59h"><circle cx="447.3" cy="1205.9" r="5.3"/></g>
<g id="n60a"><circle cx="114" cy="1226.2" r="5.3"/></g><g id="n60b"><circle cx="147.3" cy="1226.2" r="5.3"/></g><g id="n60c"><circle cx="180.7" cy="1226.2" r="5.3"/></g><g id="n60d"><circle cx="214" cy="1226.2" r="5.3"/></g><g id="n60e"><circle cx="247.3" cy="1226.2" r="5.3"/></g><g id="n60f"><circle cx="280.7" cy="1226.2" r="5.3"/></g><g id="n60g"><circle cx="314" cy="1226.2" r="5.3"/></g><g id="n60h"><circle cx="447.3" cy="1226.2" r="5.3"/></g>
<g id="n61a"><circle cx="114" cy="1246.5" r="5.3"/></g><g id="n61b"><circle cx="147.3" cy="1246.5" r="5.3"/></g><g id="n61c"><circle cx="180.7" cy="1246.5" r="5.3"/></g><g id="n61d"><circle cx="214" cy="1246.5" r="5.3"/></g><g id="n61e"><circle cx="247.3" cy="1246.5" r="5.3"/></g><g id="n61f"><circle cx="280.7" cy="1246.5" r="5.3"/></g><g id="n61g"><circle cx="447.3" cy="1246.5" r="5.3"/></g>
<g id="n62a"><circle cx="114" cy="1266.7" r="5.3"/></g><g id="n62b"><circle cx="147.3" cy="1266.7" r="5.3"/></g><g id="n62c"><circle cx="180.7" cy="1266.7" r="5.3"/></g><g id="n62d"><circle cx="214" cy="1266.7" r="5.3"/></g><g id="n62e"><circle cx="247.3" cy="1266.7" r="5.3"/></g><g id="n62f"><circle cx="280.7" cy="1266.7" r="5.3"/></g><g id="n62g"><circle cx="447.3" cy="1266.7" r="5.3"/></g>
<g id="n63a"><circle cx="80.7" cy="1287" r="5.3"/></g><g id="n63b"><circle cx="114" cy="1287" r="5.3"/></g><g id="n63c"><circle cx="180.7" cy="1287" r="5.3"/></g><g id="n63d"><circle cx="214" cy="1287" r="5.3"/></g><g id="n63e"><circle cx="247.3" cy="1287" r="5.3"/></g><g id="n63f"><circle cx="280.7" cy="1287" r="5.3"/></g><g id="n63g"><circle cx="447.3" cy="1287" r="5.3"/></g>
<g id="n64a"><circle cx="80.7" cy="1307.3" r="5.3"/></g><g id="n64b"><circle cx="114" cy="1307.3" r="5.3"/></g><g id="n64c"><circle cx="180.7" cy="1307.3" r="5.3"/></g><g id="n64d"><circle cx="214" cy="1307.3" r="5.3"/></g><g id="n64e"><circle cx="247.3" cy="1307.3" r="5.3"/></g><g id="n64f"><circle cx="280.7" cy="1307.3" r="5.3"/></g><g id="n64g"><circle cx="447.3" cy="1307.3" r="5.3"/></g>
<g id="n65a"><circle cx="80.7" cy="1327.6" r="5.3"/></g><g id="n65b"><circle cx="114" cy="1327.6" r="5.3"/></g><g id="n65c"><circle cx="147.3" cy="1327.6" r="5.3"/></g><g id="n65d"><circle cx="180.7" cy="1327.6" r="5.3"/></g><g id="n65e"><circle cx="214" cy="1327.6" r="5.3"/></g><g id="n65f"><circle cx="247.3" cy="1327.6" r="5.3"/></g><g id="n65g"><circle cx="280.7" cy="1327.6" r="5.3"/></g><g id="n65h"><circle cx="314" cy="1327.6" r="5.3"/></g><g id="n65i"><circle cx="447.3" cy="1327.6" r="5.3"/></g><g id="n65j"><circle cx="480.7" cy="1327.6" r="5.3"/></g>
<g id="n66a"><circle cx="80.7" cy="1347.8" r="5.3"/></g><g id="n66b"><circle cx="114" cy="1347.8" r="5.3"/></g><g id="n66c"><circle cx="147.3" cy="1347.8" r="5.3"/></g><g id="n66d"><circle cx="180.7" cy="1347.8" r="5.3"/></g><g id="n66e"><circle cx="214" cy="1347.8" r="5.3"/></g><g id="n66f"><circle cx="247.3" cy="1347.8" r="5.3"/></g><g id="n66g"><circle cx="280.7" cy="1347.8" r="5.3"/></g><g id="n66h"><circle cx="314" cy="1347.8" r="5.3"/></g><g id="n66i"><circle cx="447.3" cy="1347.8" r="5.3"/></g><g id="n66j"><circle cx="480.7" cy="1347.8" r="5.3"/></g>
<g id="n67a"><circle cx="75" cy="1368.1" r="5.3"/></g><g id="n67b"><circle cx="114" cy="1368.1" r="5.3"/></g><g id="n67c"><circle cx="147.3" cy="1368.1" r="5.3"/></g><g id="n67d"><circle cx="180.7" cy="1368.1" r="5.3"/></g><g id="n67e"><circle cx="214" cy="1368.1" r="5.3"/></g><g id="n67f"><circle cx="280.7" cy="1368.1" r="5.3"/></g><g id="n67g"><circle cx="314" cy="1368.1" r="5.3"/></g><g id="n67h"><circle cx="347.3" cy="1368.1" r="5.3"/></g><g id="n67i"><circle cx="414" cy="1368.1" r="5.3"/></g><g id="n67j"><circle cx="447.3" cy="1368.1" r="5.3"/></g><g id="n67k"><circle cx="480.7" cy="1368.1" r="5.3"/></g>
<g id="n68a"><circle cx="67.3" cy="1388.4" r="5.3"/></g><g id="n68b"><circle cx="114" cy="1388.4" r="5.3"/></g><g id="n68c"><circle cx="147.3" cy="1388.4" r="5.3"/></g><g id="n68d"><circle cx="180.7" cy="1388.4" r="5.3"/></g><g id="n68e"><circle cx="214" cy="1388.4" r="5.3"/></g><g id="n68f"><circle cx="280.7" cy="1388.4" r="5.3"/></g><g id="n68g"><circle cx="314" cy="1388.4" r="5.3"/></g><g id="n68h"><circle cx="347.3" cy="1388.4" r="5.3"/></g><g id="n68i"><circle cx="414" cy="1388.4" r="5.3"/></g><g id="n68j"><circle cx="447.3" cy="1388.4" r="5.3"/></g><g id="n68k"><circle cx="480.7" cy="1388.4" r="5.3"/></g>
<g id="n69a"><circle cx="63.3" cy="1408.6" r="5.3"/></g><g id="n69b"><circle cx="96.7" cy="1408.6" r="5.3"/></g><g id="n69c"><circle cx="130" cy="1408.6" r="5.3"/></g><g id="n69d"><circle cx="163.3" cy="1408.6" r="5.3"/></g><g id="n69e"><circle cx="196.7" cy="1408.6" r="5.3"/></g><g id="n69f"><circle cx="230" cy="1408.6" r="5.3"/></g><g id="n69g"><circle cx="280.7" cy="1408.6" r="5.3"/></g><g id="n69h"><circle cx="314" cy="1408.6" r="5.3"/></g><g id="n69i"><circle cx="347.3" cy="1408.6" r="5.3"/></g><g id="n69j"><circle cx="414" cy="1408.6" r="5.3"/></g><g id="n69k"><circle cx="447.3" cy="1408.6" r="5.3"/></g><g id="n69l"><circle cx="480.7" cy="1408.6" r="5.3"/></g>
<g id="n70a"><circle cx="63.3" cy="1428.9" r="5.3"/></g><g id="n70b"><circle cx="96.7" cy="1428.9" r="5.3"/></g><g id="n70c"><circle cx="130" cy="1428.9" r="5.3"/></g><g id="n70d"><circle cx="163.3" cy="1428.9" r="5.3"/></g><g id="n70e"><circle cx="196.7" cy="1428.9" r="5.3"/></g><g id="n70f"><circle cx="230" cy="1428.9" r="5.3"/></g><g id="n70g"><circle cx="280.7" cy="1428.9" r="5.3"/></g><g id="n70h"><circle cx="314" cy="1428.9" r="5.3"/></g><g id="n70i"><circle cx="347.3" cy="1428.9" r="5.3"/></g><g id="n70j"><circle cx="414" cy="1428.9" r="5.3"/></g><g id="n70k"><circle cx="447.3" cy="1428.9" r="5.3"/></g><g id="n70l"><circle cx="480.7" cy="1428.9" r="5.3"/></g>
<g id="n71a"><circle cx="63.3" cy="1449.2" r="5.3"/></g><g id="n71b"><circle cx="96.7" cy="1449.2" r="5.3"/></g><g id="n71c"><circle cx="130" cy="1449.2" r="5.3"/></g><g id="n71d"><circle cx="163.3" cy="1449.2" r="5.3"/></g><g id="n71e"><circle cx="196.7" cy="1449.2" r="5.3"/></g><g id="n71f"><circle cx="230" cy="1449.2" r="5.3"/></g><g id="n71g"><circle cx="314" cy="1449.2" r="5.3"/></g><g id="n71h"><circle cx="347.3" cy="1449.2" r="5.3"/></g><g id="n71i"><circle cx="380.7" cy="1449.2" r="5.3"/></g><g id="n71j"><circle cx="414" cy="1449.2" r="5.3"/></g><g id="n71k"><circle cx="480.7" cy="1449.2" r="5.3"/></g>
<g id="n72a"><circle cx="63.3" cy="1469.4" r="5.3"/></g><g id="n72b"><circle cx="96.7" cy="1469.4" r="5.3"/></g><g id="n72c"><circle cx="130" cy="1469.4" r="5.3"/></g><g id="n72d"><circle cx="163.3" cy="1469.4" r="5.3"/></g><g id="n72e"><circle cx="196.7" cy="1469.4" r="5.3"/></g><g id="n72f"><circle cx="230" cy="1469.4" r="5.3"/></g><g id="n72g"><circle cx="314" cy="1469.4" r="5.3"/></g><g id="n72h"><circle cx="347.3" cy="1469.4" r="5.3"/></g><g id="n72i"><circle cx="380.7" cy="1469.4" r="5.3"/></g><g id="n72j"><circle cx="414" cy="1469.4" r="5.3"/></g><g id="n72k"><circle cx="480.7" cy="1469.4" r="5.3"/></g>
<g id="n73a"><circle cx="130" cy="1489.7" r="5.3"/></g><g id="n73b"><circle cx="163.3" cy="1489.7" r="5.3"/></g><g id="n73c"><circle cx="196.7" cy="1489.7" r="5.3"/></g><g id="n73d"><circle cx="230" cy="1489.7" r="5.3"/></g><g id="n73e"><circle cx="280.7" cy="1489.7" r="5.3"/></g><g id="n73f"><circle cx="314" cy="1489.7" r="5.3"/></g><g id="n73g"><circle cx="347.3" cy="1489.7" r="5.3"/></g><g id="n73h"><circle cx="396.7" cy="1489.7" r="5.3"/></g><g id="n73i"><circle cx="430" cy="1489.7" r="5.3"/></g>
<g id="n74a"><circle cx="130" cy="1510" r="5.3"/></g><g id="n74b"><circle cx="163.3" cy="1510" r="5.3"/></g><g id="n74c"><circle cx="196.7" cy="1510" r="5.3"/></g><g id="n74d"><circle cx="230" cy="1510" r="5.3"/></g><g id="n74e"><circle cx="280.7" cy="1510" r="5.3"/></g><g id="n74f"><circle cx="314" cy="1510" r="5.3"/></g><g id="n74g"><circle cx="347.3" cy="1510" r="5.3"/></g><g id="n74h"><circle cx="396.7" cy="1510" r="5.3"/></g><g id="n74i"><circle cx="430" cy="1510" r="5.3"/></g>
<g id="n75a"><circle cx="147.3" cy="1530.3" r="5.3"/></g><g id="n75b"><circle cx="180.7" cy="1530.3" r="5.3"/></g><g id="n75c"><circle cx="230" cy="1530.3" r="5.3"/></g><g id="n75d"><circle cx="271.7" cy="1530.3" r="5.3"/></g><g id="n75e"><circle cx="312.3" cy="1530.3" r="5.3"/></g><g id="n75f"><circle cx="380.7" cy="1530.3" r="5.3"/></g><g id="n75g"><circle cx="414" cy="1530.3" r="5.3"/></g>
<g id="n76a"><circle cx="147.3" cy="1550.5" r="5.3"/></g><g id="n76b"><circle cx="180.7" cy="1550.5" r="5.3"/></g><g id="n76c"><circle cx="230" cy="1550.5" r="5.3"/></g><g id="n76d"><circle cx="271.7" cy="1550.5" r="5.3"/></g><g id="n76e"><circle cx="316.7" cy="1550.5" r="5.3"/></g><g id="n76f"><circle cx="380.7" cy="1550.5" r="5.3"/></g><g id="n76g"><circle cx="414" cy="1550.5" r="5.3"/></g>
<g id="n77a"><circle cx="180.7" cy="1570.8" r="5.3"/></g><g id="n77b"><circle cx="259.3" cy="1570.8" r="5.3"/></g><g id="n77c"><circle cx="316.7" cy="1570.8" r="5.3"/></g><g id="n77d"><circle cx="350" cy="1570.8" r="5.3"/></g>
<g id="n78a"><circle cx="180.7" cy="1591.1" r="5.3"/></g><g id="n78b"><circle cx="254" cy="1591.1" r="5.3"/></g><g id="n78c"><circle cx="316.7" cy="1591.1" r="5.3"/></g><g id="n78d"><circle cx="350" cy="1591.1" r="5.3"/></g>
<g id="n79a"><circle cx="180.7" cy="1611.3" r="5.3"/></g><g id="n79b"><circle cx="216.7" cy="1611.3" r="5.3"/></g><g id="n79c"><circle cx="250" cy="1611.3" r="5.3"/></g><g id="n79d"><circle cx="283.3" cy="1611.3" r="5.3"/></g><g id="n79e"><circle cx="316.7" cy="1611.3" r="5.3"/></g><g id="n79f"><circle cx="350" cy="1611.3" r="5.3"/></g>
<g id="n80a"><circle cx="180.7" cy="1631.6" r="5.3"/></g><g id="n80b"><circle cx="216.7" cy="1631.6" r="5.3"/></g><g id="n80c"><circle cx="250" cy="1631.6" r="5.3"/></g><g id="n80d"><circle cx="283.3" cy="1631.6" r="5.3"/></g><g id="n80e"><circle cx="316.7" cy="1631.6" r="5.3"/></g><g id="n80f"><circle cx="350" cy="1631.6" r="5.3"/></g>
<g id="n81a"><circle cx="150" cy="1651.9" r="5.3"/></g><g id="n81b"><circle cx="183.3" cy="1651.9" r="5.3"/></g><g id="n81c"><circle cx="216.7" cy="1651.9" r="5.3"/></g><g id="n81d"><circle cx="250" cy="1651.9" r="5.3"/></g><g id="n81e"><circle cx="283.3" cy="1651.9" r="5.3"/></g><g id="n81f"><circle cx="350" cy="1651.9" r="5.3"/></g>
<g id="n82a"><circle cx="150" cy="1672.1" r="5.3"/></g><g id="n82b"><circle cx="183.3" cy="1672.1" r="5.3"/></g><g id="n82c"><circle cx="216.7" cy="1672.1" r="5.3"/></g><g id="n82d"><circle cx="250" cy="1672.1" r="5.3"/></g><g id="n82e"><circle cx="283.3" cy="1672.1" r="5.3"/></g><g id="n82f"><circle cx="350" cy="1672.1" r="5.3"/></g>
<g id="n83a"><circle cx="116.7" cy="1692.4" r="5.3"/></g><g id="n83b"><circle cx="150" cy="1692.4" r="5.3"/></g><g id="n83c"><circle cx="183.3" cy="1692.4" r="5.3"/></g><g id="n83d"><circle cx="250" cy="1692.4" r="5.3"/></g><g id="n83e"><circle cx="283.3" cy="1692.4" r="5.3"/></g><g id="n83f"><circle cx="350" cy="1692.4" r="5.3"/></g>
<g id="n84a"><circle cx="116.7" cy="1712.7" r="5.3"/></g><g id="n84b"><circle cx="150" cy="1712.7" r="5.3"/></g><g id="n84c"><circle cx="183.3" cy="1712.7" r="5.3"/></g><g id="n84d"><circle cx="250" cy="1712.7" r="5.3"/></g><g id="n84e"><circle cx="283.3" cy="1712.7" r="5.3"/></g><g id="n84f"><circle cx="350" cy="1712.7" r="5.3"/></g>
<g id="n85a"><circle cx="116.7" cy="1733" r="5.3"/></g><g id="n85b"><circle cx="183.3" cy="1733" r="5.3"/></g><g id="n85c"><circle cx="250" cy="1733" r="5.3"/></g><g id="n85d"><circle cx="283.3" cy="1733" r="5.3"/></g><g id="n85e"><circle cx="350" cy="1733" r="5.3"/></g>
<g id="n86a"><circle cx="116.7" cy="1753.2" r="5.3"/></g><g id="n86b"><circle cx="183.3" cy="1753.2" r="5.3"/></g><g id="n86c"><circle cx="250" cy="1753.2" r="5.3"/></g><g id="n86d"><circle cx="283.3" cy="1753.2" r="5.3"/></g><g id="n86e"><circle cx="350" cy="1753.2" r="5.3"/></g>
<g id="n87a"><circle cx="116.7" cy="1773.5" r="5.3"/></g><g id="n87b"><circle cx="183.3" cy="1773.5" r="5.3"/></g><g id="n87c"><circle cx="216.7" cy="1773.5" r="5.3"/></g><g id="n87d"><circle cx="250" cy="1773.5" r="5.3"/></g><g id="n87e"><circle cx="283.3" cy="1773.5" r="5.3"/></g><g id="n87f"><circle cx="350" cy="1773.5" r="5.3"/></g>
<g id="n88a"><circle cx="116.7" cy="1793.8" r="5.3"/></g><g id="n88b"><circle cx="183.3" cy="1793.8" r="5.3"/></g><g id="n88c"><circle cx="216.7" cy="1793.8" r="5.3"/></g><g id="n88d"><circle cx="250" cy="1793.8" r="5.3"/></g><g id="n88e"><circle cx="283.3" cy="1793.8" r="5.3"/></g><g id="n88f"><circle cx="350" cy="1793.8" r="5.3"/></g>
<g id="n89a"><circle cx="116.7" cy="1814" r="5.3"/></g><g id="n89b"><circle cx="216.7" cy="1814" r="5.3"/></g><g id="n89c"><circle cx="250" cy="1814" r="5.3"/></g><g id="n89d"><circle cx="283.3" cy="1814" r="5.3"/></g><g id="n89e"><circle cx="350" cy="1814" r="5.3"/></g>
<g id="n90a"><circle cx="116.7" cy="1834.3" r="5.3"/></g><g id="n90b"><circle cx="212.7" cy="1834.3" r="5.3"/></g><g id="n90c"><circle cx="250" cy="1834.3" r="5.3"/></g><g id="n90d"><circle cx="283.3" cy="1834.3" r="5.3"/></g><g id="n90e"><circle cx="350" cy="1834.3" r="5.3"/></g>
<g id="n91a"><circle cx="116.7" cy="1854.6" r="5.3"/></g><g id="n91b"><circle cx="179.3" cy="1854.6" r="5.3"/></g><g id="n91c"><circle cx="212.7" cy="1854.6" r="5.3"/></g><g id="n91d"><circle cx="252.7" cy="1854.6" r="5.3"/></g><g id="n91e"><circle cx="350" cy="1854.6" r="5.3"/></g>
<g id="n92a"><circle cx="116.7" cy="1874.8" r="5.3"/></g><g id="n92b"><circle cx="179.3" cy="1874.8" r="5.3"/></g><g id="n92c"><circle cx="212.7" cy="1874.8" r="5.3"/></g><g id="n92d"><circle cx="255" cy="1874.8" r="5.3"/></g><g id="n92e"><circle cx="350" cy="1874.8" r="5.3"/></g>
<g id="n93a"><circle cx="116.7" cy="1895.1" r="5.3"/></g><g id="n93b"><circle cx="163.3" cy="1895.1" r="5.3"/></g><g id="n93c"><circle cx="196.7" cy="1895.1" r="5.3"/></g><g id="n93d"><circle cx="230" cy="1895.1" r="5.3"/></g><g id="n93e"><circle cx="263.3" cy="1895.1" r="5.3"/></g><g id="n93f"><circle cx="350" cy="1895.1" r="5.3"/></g>
<g id="n94a"><circle cx="116.7" cy="1915.4" r="5.3"/></g><g id="n94b"><circle cx="163.3" cy="1915.4" r="5.3"/></g><g id="n94c"><circle cx="196.7" cy="1915.4" r="5.3"/></g><g id="n94d"><circle cx="230" cy="1915.4" r="5.3"/></g><g id="n94e"><circle cx="263.3" cy="1915.4" r="5.3"/></g><g id="n94f"><circle cx="350" cy="1915.4" r="5.3"/></g>
<g id="n95a"><circle cx="163.3" cy="1935.7" r="5.3"/></g><g id="n95b"><circle cx="196.7" cy="1935.7" r="5.3"/></g><g id="n95c"><circle cx="230" cy="1935.7" r="5.3"/></g><g id="n95d"><circle cx="350" cy="1935.7" r="5.3"/></g>
<g id="n96a"><circle cx="163.3" cy="1955.9" r="5.3"/></g><g id="n96b"><circle cx="196.7" cy="1955.9" r="5.3"/></g><g id="n96c"><circle cx="230" cy="1955.9" r="5.3"/></g><g id="n96d"><circle cx="350" cy="1955.9" r="5.3"/></g>
<g id="n97a"><circle cx="163.3" cy="1976.2" r="5.3"/></g><g id="n97b"><circle cx="350" cy="1976.2" r="5.3"/></g>
<g id="n98a"><circle cx="163.3" cy="1996.5" r="5.3"/></g><g id="n98b"><circle cx="350" cy="1996.5" r="5.3"/></g>
<g id="n99a"><circle cx="163.3" cy="2016.7" r="5.3"/></g><g id="n99b"><circle cx="350" cy="2016.7" r="5.3"/></g>
<g id="n100a"><circle cx="163.3" cy="2037" r="5.3"/></g><g id="n100b"><circle cx="350" cy="2037" r="5.3"/></g>
<g id="n101a"><circle cx="163.3" cy="2057.3" r="5.3"/></g><g id="n101b"><circle cx="350" cy="2057.3" r="5.3"/></g>
<g id="n102a"><circle cx="163.3" cy="2077.5" r="5.3"/></g><g id="n102b"><circle cx="350" cy="2077.5" r="5.3"/></g>
<g id="n103a"><circle cx="163.3" cy="2097.8" r="5.3"/></g><g id="n103b"><circle cx="350" cy="2097.8" r="5.3"/></g>
<g id="n104a"><circle cx="163.3" cy="2118.1" r="5.3"/></g><g id="n104b"><circle cx="350" cy="2118.1" r="5.3"/></g>
<g id="n105a"><circle cx="147.3" cy="2138.4" r="5.3"/></g><g id="n105b"><circle cx="180.7" cy="2138.4" r="5.3"/></g><g id="n105c"><circle cx="350" cy="2138.4" r="5.3"/></g>
<g id="n106a"><circle cx="147.3" cy="2158.6" r="5.3"/></g><g id="n106b"><circle cx="180.7" cy="2158.6" r="5.3"/></g><g id="n106c"><circle cx="350" cy="2158.6" r="5.3"/></g>
<g id="n107a"><circle cx="147.3" cy="2178.9" r="5.3"/></g><g id="n107b"><circle cx="180.7" cy="2178.9" r="5.3"/></g><g id="n107c"><circle cx="350" cy="2178.9" r="5.3"/></g>
<g id="n108a"><circle cx="147.3" cy="2199.2" r="5.3"/></g><g id="n108b"><circle cx="180.7" cy="2199.2" r="5.3"/></g><g id="n108c"><circle cx="350" cy="2199.2" r="5.3"/></g>
<g id="n109a"><circle cx="114" cy="2219.4" r="5.3"/></g><g id="n109b"><circle cx="147.3" cy="2219.4" r="5.3"/></g><g id="n109c"><circle cx="180.7" cy="2219.4" r="5.3"/></g><g id="n109d"><circle cx="350" cy="2219.4" r="5.3"/></g>
<g id="n110a"><circle cx="114" cy="2239.7" r="5.3"/></g><g id="n110b"><circle cx="147.3" cy="2239.7" r="5.3"/></g><g id="n110c"><circle cx="180.7" cy="2239.7" r="5.3"/></g><g id="n110d"><circle cx="350" cy="2239.7" r="5.3"/></g>
<g id="n111a"><circle cx="147.3" cy="2260" r="5.3"/></g><g id="n111b"><circle cx="180.7" cy="2260" r="5.3"/></g><g id="n111c"><circle cx="350" cy="2260" r="5.3"/></g>
<g id="n112a"><circle cx="147.3" cy="2280.2" r="5.3"/></g><g id="n112b"><circle cx="180.7" cy="2280.2" r="5.3"/></g><g id="n112c"><circle cx="350" cy="2280.2" r="5.3"/></g>
<g id="n113a"><circle cx="180.7" cy="2300.5" r="5.3"/></g><g id="n113b"><circle cx="350" cy="2300.5" r="5.3"/></g>
<g id="n114a"><circle cx="180.7" cy="2320.8" r="5.3"/></g><g id="n114b"><circle cx="350" cy="2320.8" r="5.3"/></g>
<g id="n115a"><circle cx="147.3" cy="2341.1" r="5.3"/></g><g id="n115b"><circle cx="180.7" cy="2341.1" r="5.3"/></g><g id="n115c"><circle cx="214" cy="2341.1" r="5.3"/></g>
<g id="n116a"><circle cx="147.3" cy="2361.3" r="5.3"/></g><g id="n116b"><circle cx="180.7" cy="2361.3" r="5.3"/></g><g id="n116c"><circle cx="214" cy="2361.3" r="5.3"/></g>
<g id="n117a"><circle cx="131.7" cy="2381.6" r="5.3"/></g><g id="n117b"><circle cx="165" cy="2381.6" r="5.3"/></g><g id="n117c"><circle cx="214" cy="2381.6" r="5.3"/></g>
<g id="n118a"><circle cx="131.7" cy="2401.9" r="5.3"/></g><g id="n118b"><circle cx="165" cy="2401.9" r="5.3"/></g><g id="n118c"><circle cx="214" cy="2401.9" r="5.3"/></g>
<g id="n119a"><circle cx="131.7" cy="2422.1" r="5.3"/></g><g id="n119b"><circle cx="165" cy="2422.1" r="5.3"/></g>
<g id="n120a"><circle cx="131.7" cy="2442.4" r="5.3"/></g><g id="n120b"><circle cx="165" cy="2442.4" r="5.3"/></g>
<g id="n121"><circle cx="131.7" cy="2462.7" r="5.3"/></g>
<g id="n122"><circle cx="131.7" cy="2482.9" r="5.3"/></g>
<g id="n123"><circle cx="131.7" cy="2503.2" r="5.3"/></g>
<g id="n124"><circle cx="131.7" cy="2523.5" r="5.3"/></g>
<g id="n125"><circle cx="131.7" cy="2543.8" r="5.3"/></g>
<g id="n126"><circle cx="131.7" cy="2564" r="5.3"/></g>
</g>
</svg>
